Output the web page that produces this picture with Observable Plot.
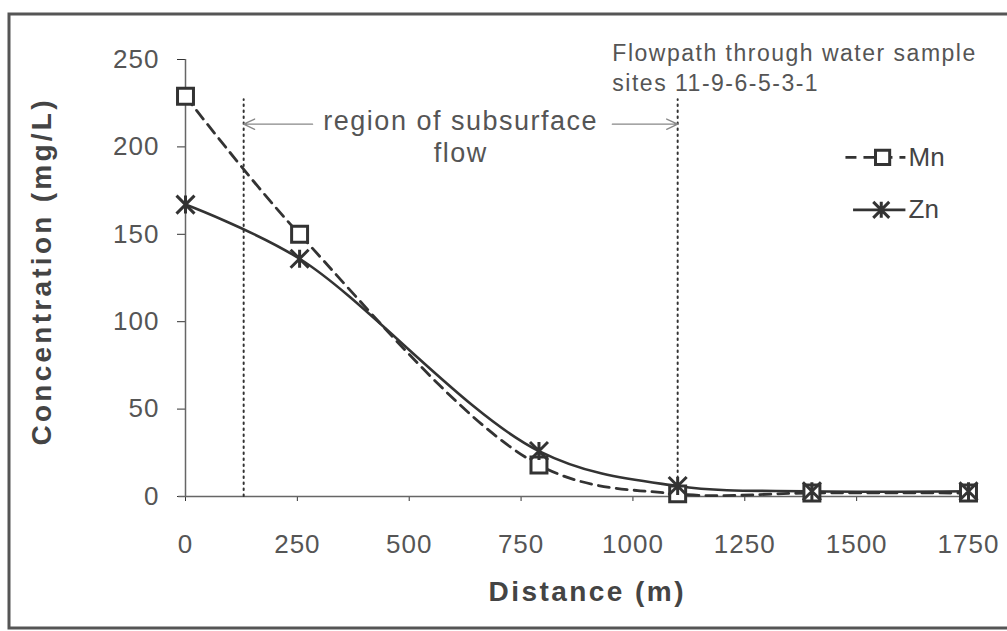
<!DOCTYPE html>
<html>
<head>
<meta charset="utf-8">
<script src="https://cdn.jsdelivr.net/npm/d3@7"></script>
<script src="https://cdn.jsdelivr.net/npm/@observablehq/plot@0.6"></script>
<style>
  html, body { margin: 0; padding: 0; background: #fff; }
  #chart { width: 1007px; height: 631px; }
  svg { display: block; }
  g[aria-label="x-axis tick label"] text, g[aria-label="y-axis tick label"] text { letter-spacing: 1px; }
</style>
</head>
<body>
<div id="chart"></div>
<script>
// ---- data ----
const distance = [0, 255, 790, 1100, 1400, 1750];
const mnValues = [229, 150, 18, 1.5, 2, 2];
const znValues = [167, 136, 26, 6, 3, 3];
const xTicks = [0, 250, 500, 750, 1000, 1250, 1500, 1750];
const yTicks = [0, 50, 100, 150, 200, 250];
const regionBounds = [130, 1100];
const regionLabel = "region of subsurface\nflow";
const flowpathLabel = ["Flowpath through water sample", "sites 11-9-6-5-3-1"];
const legendNames = ["Mn", "Zn"];

const mn = distance.map((d, i) => ({x: d, y: mnValues[i]}));
const zn = distance.map((d, i) => ({x: d, y: znValues[i]}));

const ink = "#333";
const txt = "#555";

// star marker: X with vertical bar
const star = {
  draw(ctx, size) {
    const r = Math.sqrt(size / Math.PI);
    ctx.moveTo(-r, -r); ctx.lineTo(r, r);
    ctx.moveTo(-r, r); ctx.lineTo(r, -r);
    ctx.moveTo(0, -r); ctx.lineTo(0, r);
  }
};

// legend anchor positions in data space
const legend = [
  {name: legendNames[0], x1: 1475, x2: 1609, xm: 1558, xl: 1616, y: 194},
  {name: legendNames[1], x1: 1492, x2: 1609, xm: 1555, xl: 1616, y: 164}
];

const chart = Plot.plot({
  width: 1007,
  height: 631,
  marginLeft: 185,
  marginRight: 39,
  marginTop: 59,
  marginBottom: 135,
  style: {fontFamily: "Liberation Sans, Arial, sans-serif", background: "#fff", overflow: "visible"},
  x: {domain: [0, 1750], ticks: xTicks, label: null},
  y: {domain: [0, 250], ticks: yTicks, label: null},
  marks: [
    // axes
    Plot.axisY({ticks: yTicks, tickSize: 8, tickPadding: 18, fontSize: 26, color: txt, stroke: ink}),
    Plot.axisX({ticks: xTicks, tickSize: 5, tickPadding: 33, fontSize: 26, color: txt, stroke: ink, tickFormat: d => String(d)}),
    Plot.ruleX([0], {stroke: "#666", strokeWidth: 1.5}),
    Plot.ruleY([0], {x1: -15, x2: 1750, stroke: "#666", strokeWidth: 1.5}),
    // axis titles
    Plot.text(["Distance (m)"], {frameAnchor: "bottom", textAnchor: "middle", dx: 9, dy: 104, fontSize: 28, fontWeight: "bold", fill: "#444"}),
    Plot.text(["Concentration (mg/L)"], {frameAnchor: "left", textAnchor: "middle", dx: -143, dy: -5, rotate: -90, fontSize: 28, fontWeight: "bold", fill: "#444"}),
    // region boundaries
    Plot.ruleX(regionBounds, {y1: 0, y2: 227, stroke: "#333", strokeWidth: 2, strokeDasharray: "1.5,4.5", strokeLinecap: "round"}),
    // arrows
    Plot.arrow([{x1: 284, x2: regionBounds[0], y: 213}, {x1: 954, x2: regionBounds[1], y: 213}], {
      x1: "x1", x2: "x2", y1: "y", y2: "y", stroke: "#888", strokeWidth: 1.3, headLength: 14, headAngle: 50
    }),
    Plot.text([regionLabel], {x: 615, y: 206.5, fontSize: 27, fill: "#555", lineHeight: 1.2}),
    Plot.text([flowpathLabel.join("\n")], {x: 954, y: 246, textAnchor: "start", fontSize: 23, fill: "#555", lineHeight: 1.3}),
    // series
    Plot.line(mn, {x: "x", y: "y", curve: "catmull-rom", stroke: ink, strokeWidth: 2.8, strokeDasharray: "11,7"}),
    Plot.line(zn, {x: "x", y: "y", curve: "catmull-rom", stroke: ink, strokeWidth: 2.6}),
    Plot.dot(mn, {x: "x", y: "y", symbol: "square", r: 9, fill: "#fff", stroke: ink, strokeWidth: 3}),
    Plot.dot(zn, {x: "x", y: "y", symbol: star, r: 9, stroke: ink, strokeWidth: 3}),
    // legend
    Plot.link([legend[0]], {x1: "x1", x2: "x2", y1: "y", y2: "y", stroke: ink, strokeWidth: 2.8, strokeDasharray: "11,7"}),
    Plot.link([legend[1]], {x1: "x1", x2: "x2", y1: "y", y2: "y", stroke: ink, strokeWidth: 2.6}),
    Plot.dot([legend[0]], {x: "xm", y: "y", symbol: "square", r: 8, fill: "#fff", stroke: ink, strokeWidth: 3}),
    Plot.dot([legend[1]], {x: "xm", y: "y", symbol: star, r: 8, stroke: ink, strokeWidth: 3}),
    Plot.text(legend, {x: "xl", y: "y", text: "name", textAnchor: "start", fontSize: 26, fill: "#444"})
  ]
});

// stretch lettering to match the wide type of the original
d3.select(chart).selectAll("g[aria-label='text'] text").each(function() {
  const el = d3.select(this);
  const t = el.text();
  if (t.startsWith("Concentration")) el.attr("textLength", 345).attr("lengthAdjust", "spacing");
  else if (t.startsWith("Distance")) el.attr("textLength", 195).attr("lengthAdjust", "spacing");
});
d3.select(chart).selectAll("g[aria-label='text']").each(function() {
  const g = d3.select(this);
  const s = g.text();
  if (s.includes("region") || s.includes("Flowpath")) g.attr("letter-spacing", 1.5);
});

// outer border of the figure
d3.select(chart).append("rect")
  .attr("x", 9).attr("y", 14).attr("width", 1010).attr("height", 614)
  .attr("fill", "none").attr("stroke", "#555").attr("stroke-width", 3);

document.getElementById("chart").appendChild(chart);
</script>
</body>
</html>
